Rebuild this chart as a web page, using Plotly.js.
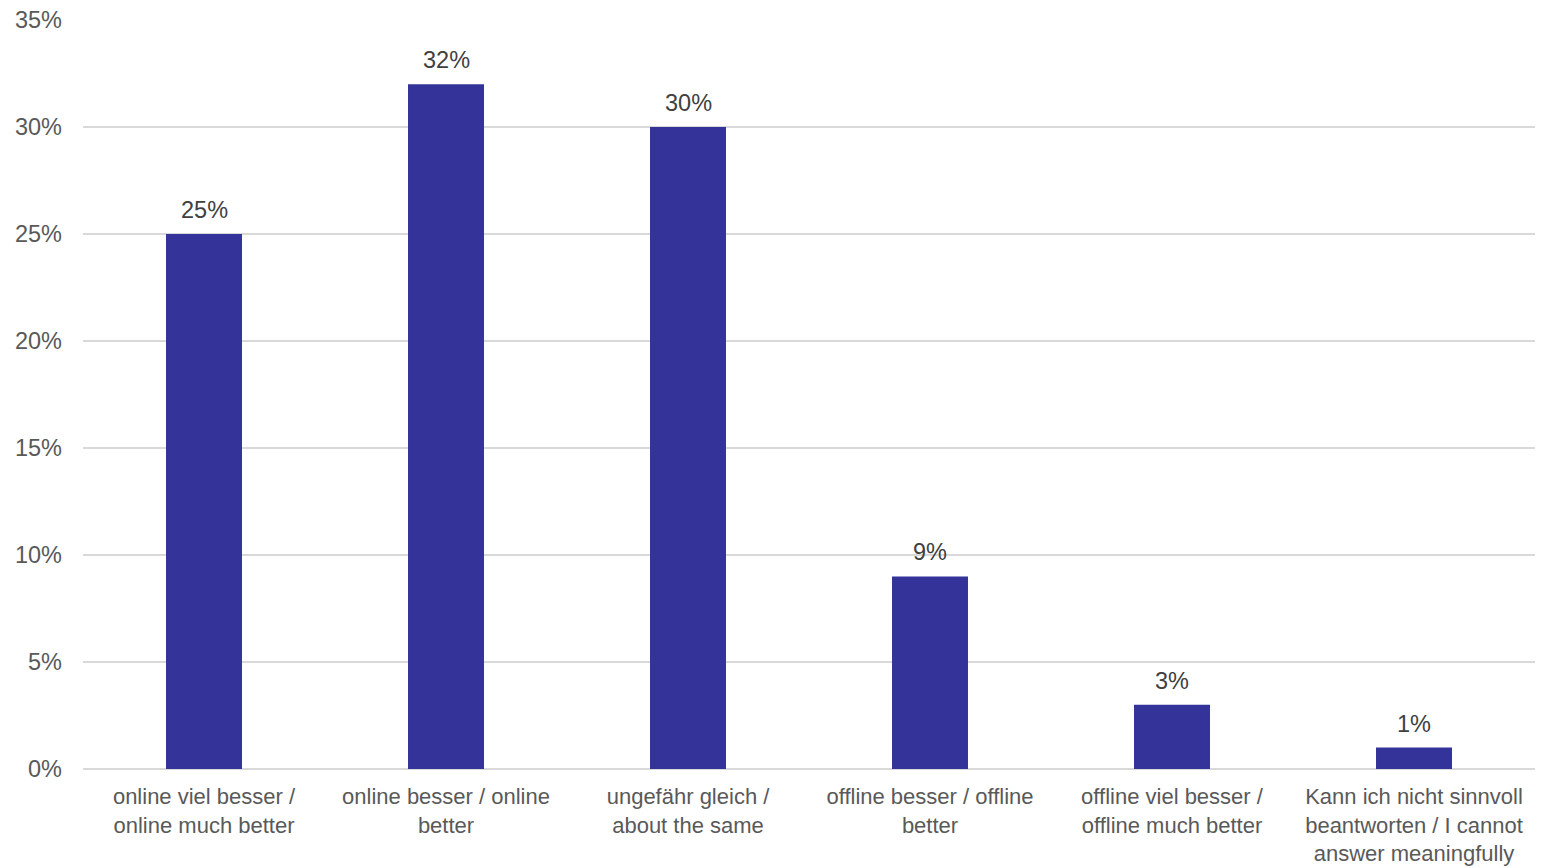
<!DOCTYPE html>
<html>
<head>
<meta charset="utf-8">
<script src="https://cdn.plot.ly/plotly-3.0.1.min.js"></script>
<style>html,body{margin:0;padding:0;background:#fff;}#chart{width:1545px;height:868px;}</style>
</head>
<body>
<div id="chart"></div>
<script>
const categories = [
  "online viel besser /<br>online much better",
  "online besser / online<br>better",
  "ungefähr gleich /<br>about the same",
  "offline besser / offline<br>better",
  "offline viel besser /<br>offline much better",
  "Kann ich nicht sinnvoll<br>beantworten / I cannot<br>answer meaningfully"
];
const values = [25, 32, 30, 9, 3, 1];
const valueLabels = ["25%", "32%", "30%", "9%", "3%", "1%"];
const yTickVals = [0, 5, 10, 15, 20, 25, 30, 35];
const yTickText = ["0%", "5%", "10%", "15%", "20%", "25%", "30%", "35%"];

const font = "'Liberation Sans', Arial, sans-serif";

const trace = {
  type: "bar",
  x: categories,
  y: values,
  marker: {color: "#333399"},
  hoverinfo: "skip"
};

const annotations = categories.map((c, i) => ({
  x: c, y: values[i], xref: "x", yref: "y",
  text: valueLabels[i], showarrow: false,
  yanchor: "bottom", yshift: 9,
  font: {family: font, size: 23.5, color: "#404040"}
}));

const layout = {
  width: 1545, height: 868,
  margin: {l: 83, r: 10, t: 20, b: 99},
  paper_bgcolor: "#fff", plot_bgcolor: "#fff",
  bargap: 0.686,
  showlegend: false,
  font: {family: font, size: 23.5, color: "#595959"},
  xaxis: {
    type: "category",
    showgrid: false, zeroline: false,
    showline: false,
    ticks: "", ticklabelstandoff: 12,
    tickfont: {family: font, size: 22, color: "#595959"}
  },
  yaxis: {
    range: [0, 35],
    tickvals: yTickVals, ticktext: yTickText,
    showgrid: true, gridcolor: "#d9d9d9", gridwidth: 1.5,
    zeroline: true, zerolinecolor: "#d9d9d9", zerolinewidth: 1.5,
    showline: false, ticks: "", ticklabelstandoff: 20,
    tickfont: {family: font, size: 23.5, color: "#595959"}
  },
  annotations: annotations
};

Plotly.newPlot("chart", [trace], layout, {staticPlot: true, displayModeBar: false});
</script>
</body>
</html>
